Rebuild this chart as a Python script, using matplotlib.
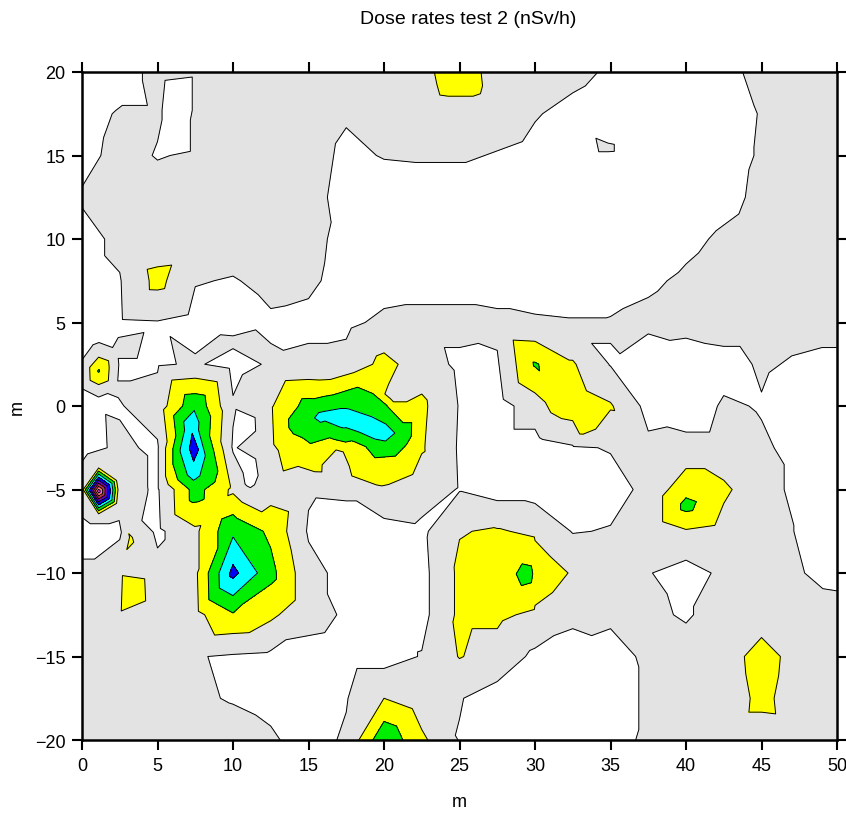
import numpy as np
import matplotlib
matplotlib.use("Agg")
import matplotlib.pyplot as plt
import matplotlib.tri as mtri

# ---- data: dose rate readings (nSv/h) on a 2.5 m base grid ----
x_base = [0, 2.5, 5, 7.5, 10, 12.5, 15, 17.5, 20, 22.5, 25, 27.5, 30,
          32.5, 35, 37.5, 40, 42.5, 45, 47.5, 50]
y_base = [20, 17.5, 15, 12.5, 10, 7.5, 5, 2.5, 0, -2.5, -5, -7.5, -10,
          -12.5, -15, -17.5, -20]
z_base = [
    [75, 77, 82, 81, 84, 85, 85, 85, 86, 88, 94, 87, 84, 82, 79, 76, 76, 78, 82, 84, 84],
    [76, 81, 81, 81, 84, 85, 85, 81, 85, 86, 87, 84, 80.5, 78, 76, 75, 75, 76, 80.5, 84, 84],
    [77, 83, 79.5, 81, 85, 85, 84, 78, 80.5, 81, 81, 79.5, 78, 77, 77, 75, 75, 76, 81, 84, 85],
    [81, 83, 84, 85, 85, 85, 83, 77, 75, 75, 75, 75, 75, 75, 75, 75, 76, 78, 81.5, 84, 85],
    [77, 82, 84, 85, 84, 84, 82, 78, 75, 75, 75, 75, 75, 75, 75, 76, 78.5, 81, 83, 84, 85],
    [77, 79.5, 93, 80.5, 79.5, 82, 81.5, 77, 76, 76, 76, 76, 76, 76, 77, 79, 81, 83, 84, 84, 85],
    [76, 79, 79.5, 77, 76, 79, 78, 78, 82, 83, 83, 82, 81, 80.5, 80.5, 81.5, 83, 84, 84, 83, 83],
    [80.5, 79, 79, 81, 77, 81, 82, 83, 93, 85, 78, 79, 101, 91, 79.5, 76, 75, 77, 81, 79, 78],
    [78, 79.5, 84, 108, 81, 89, 104, 109, 103, 92, 79.5, 76, 85, 96, 91, 77, 75, 81, 79.5, 76, 76],
    [78, 81, 79, 126, 79, 88, 98, 96, 106, 91, 79, 76, 76, 79, 80.5, 82, 83, 83, 81, 78, 76],
    [84, 83, 79, 104, 88, 85, 81, 81.5, 89, 84, 79.5, 76, 76, 76, 77, 82, 97, 92, 83, 78, 75],
    [78, 78, 78, 88, 108, 98, 79, 76, 76, 78, 89.5, 91, 88, 79.5, 80.5, 82, 89, 86, 83, 79.5, 76],
    [81, 88, 83, 88, 123, 103, 83, 77, 75, 77, 92, 96, 97, 89, 82, 80.5, 76, 82, 84, 80.5, 77],
    [83, 89, 84, 87, 99, 92, 83, 79, 76, 77, 92, 92, 88, 82, 81, 81, 79.5, 82, 84, 85, 84],
    [84, 84, 84, 80.5, 79, 78, 77, 76, 76, 80.5, 90.5, 86, 78, 76, 78, 81, 82, 84, 95, 85, 84],
    [84, 84, 84, 81, 79.5, 78, 77, 79.5, 90, 84, 80.5, 76, 75, 75, 77, 81, 82, 83, 93, 84, 84],
    [84, 84, 84, 84, 83, 81, 77, 81, 108, 92, 79.5, 77, 78, 77, 78, 81, 83, 84, 84, 85, 85],
]

# extra spot readings between grid nodes
extra_x = [1.1, 1.1, 2.4, 2.4, 1.1,                     # spike and its ring
           1.1, 1.1, 0.0, 2.3, 2.3, 1.1, 0.0, 1.2,      # small peak near (1, 2)
           3.2, 3.3, 6.5, 6.2, 34.8, 17.1, 29.7, 40.0, 20.5,
           8.8, 7.2, 7.3, 7.3, 6.6, 8.0,                # left blob
           11.0, 11.0, 11.0, 10.0,                      # pockets near x = 10
           14.0, 16.0, 17.3, 18.5, 20.2, 21.5, 16.5, 19.0, 21.5, 14.0, 16.0, 18.5,
           15.5, 18.0, 18.0,                            # middle blob
           33.5, 31.5, 33.0,
           1.2, 3.0, 24.0, 26.2]                        # top edge
extra_y = [-5.1, -3.6, -4.4, -5.9, -6.6,
           2.1, 3.6, 3.8, 3.2, 1.0, 0.5, 1.0, 4.4,
           -7.9, -10.7, 18.5, 16.0, 15.3, -3.0, -10.1, -6.0, 0.5,
           -6.3, -1.2, -4.0, -5.5, -2.6, -2.8,
           -1.0, -3.5, -4.6, 3.9,
           -1.0, -0.6, -0.9, -1.2, -1.7, -1.5, -2.2, -3.5, -3.5, -3.0, 1.2, 1.5,
           -3.7, -3.9, -2.4,
           -0.8, 0.5, -1.6,
           18.5, 19.0, 18.9, 18.9]
extra_z = [166, 84, 83, 83, 82,
           101, 81, 78, 81, 80.5, 79.5, 79.5, 77,
           91, 97, 76, 77, 81, 84, 103, 103, 88,
           95, 117, 115, 102, 112, 112,
           76, 76, 78, 81.5,
           103, 113, 115, 116, 114, 104, 97, 96, 94, 94, 93, 97,
           92, 93, 96,
           95, 96, 91,
           76, 78, 91, 91]

levels = [0, 80, 90, 100, 110, 120, 130, 140, 150, 160, 400]
colors = ["#ffffff", "#e3e3e3", "#ffff00", "#00ee00", "#00ffff", "#0000ff",
          "#6a00c8", "#c03050", "#ff8070", "#ff60ff"]

title = "Dose rates test 2 (nSv/h)"
x_label = "m"
y_label = "m"
x_ticks = [0, 5, 10, 15, 20, 25, 30, 35, 40, 45, 50]
y_ticks = [-20, -15, -10, -5, 0, 5, 10, 15, 20]

# ---- build point set ----
gx, gy = np.meshgrid(np.array(x_base, float), np.array(y_base, float))
px = np.concatenate([gx.ravel(), np.array(extra_x, float)])
py = np.concatenate([gy.ravel(), np.array(extra_y, float)])
pz = np.concatenate([np.array(z_base, float).ravel(), np.array(extra_z, float)])

plt.rcParams["font.family"] = ["Liberation Sans Narrow", "Liberation Sans", "DejaVu Sans"]

fig = plt.figure(figsize=(8.46, 8.20), dpi=100)
ax = fig.add_axes([82 / 846, (820 - 741) / 820, (837 - 82) / 846, (741 - 73) / 820])

tri = mtri.Triangulation(px, py)
ax.tricontourf(tri, pz, levels=levels, colors=colors)
ax.tricontour(tri, pz, levels=levels[1:-1], colors="black", linewidths=0.7)

ax.set_xlim(0, 50)
ax.set_ylim(-20, 20)
ax.set_xticks(x_ticks)
ax.set_yticks(y_ticks)
ax.tick_params(axis="both", which="both", direction="out", length=7, width=1.5,
               top=True, right=True, labelsize=13, pad=5)
for s in ax.spines.values():
    s.set_linewidth(1.8)

fig.text(459 / 846, 1 - 803 / 820, x_label, ha="center", va="center", fontsize=13)
fig.text(17 / 846, 1 - 408 / 820, y_label, ha="center", va="center", fontsize=13,
         rotation=90)
fig.text(468 / 846, 1 - 20 / 820, title, ha="center", va="center", fontsize=14)

fig.savefig("out.png", dpi=100)
